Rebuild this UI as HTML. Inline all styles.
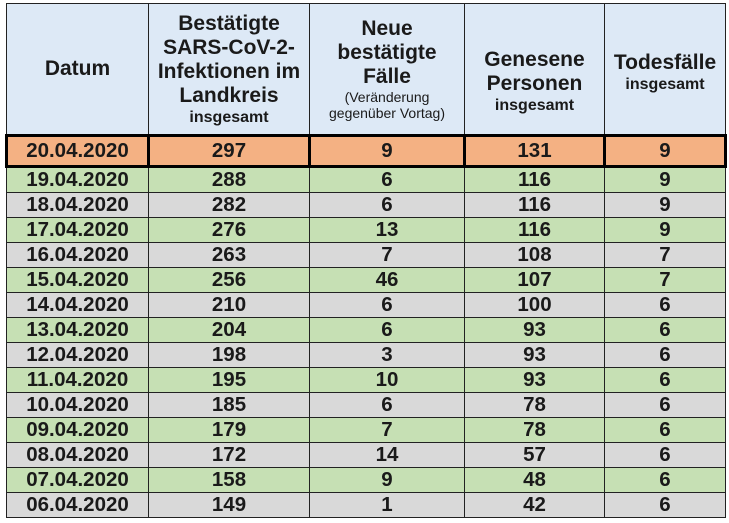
<!DOCTYPE html>
<html><head><meta charset="utf-8"><style>
html,body{margin:0;padding:0;background:#fff;width:729px;height:523px;overflow:hidden}
table{position:absolute;left:5px;top:3px;border-collapse:collapse;table-layout:fixed;font-family:"Liberation Sans",Arial,sans-serif;font-weight:bold;color:#1a1a1a}
td{border:1px solid #222;text-align:center;padding:0;font-size:20.5px;line-height:20px;overflow:hidden}
thead td{background:#dde9f6;height:130px;font-size:21px;line-height:24px;vertical-align:middle}
.s{font-size:16px;line-height:19px;display:block}
.n{font-size:14px;line-height:16px;font-weight:normal;display:block}
tr.h td{background:#f4b183;height:28px;border:3.5px solid #000}
tr.g td{background:#c6e0b4;height:24px}
tr.y td{background:#d9d9d9;height:24px}
</style></head><body>
<table>
<colgroup><col style="width:142px"><col style="width:161px"><col style="width:155px"><col style="width:140px"><col style="width:121px"></colgroup>
<thead><tr>
<td>Datum</td>
<td>Bestätigte<br>SARS-CoV-2-<br>Infektionen im<br>Landkreis<span class="s">insgesamt</span></td>
<td>Neue<br>bestätigte<br>Fälle<span class="n">(Veränderung<br>gegenüber Vortag)</span></td>
<td style="vertical-align:top;padding-top:44px;height:86px">Genesene<br>Personen<span class="s">insgesamt</span></td>
<td style="vertical-align:top;padding-top:47px;height:83px">Todesfälle<span class="s">insgesamt</span></td>
</tr></thead>
<tbody>
<tr class="h"><td>20.04.2020</td><td>297</td><td>9</td><td>131</td><td>9</td></tr>
<tr class="g"><td>19.04.2020</td><td>288</td><td>6</td><td>116</td><td>9</td></tr>
<tr class="y"><td>18.04.2020</td><td>282</td><td>6</td><td>116</td><td>9</td></tr>
<tr class="g"><td>17.04.2020</td><td>276</td><td>13</td><td>116</td><td>9</td></tr>
<tr class="y"><td>16.04.2020</td><td>263</td><td>7</td><td>108</td><td>7</td></tr>
<tr class="g"><td>15.04.2020</td><td>256</td><td>46</td><td>107</td><td>7</td></tr>
<tr class="y"><td>14.04.2020</td><td>210</td><td>6</td><td>100</td><td>6</td></tr>
<tr class="g"><td>13.04.2020</td><td>204</td><td>6</td><td>93</td><td>6</td></tr>
<tr class="y"><td>12.04.2020</td><td>198</td><td>3</td><td>93</td><td>6</td></tr>
<tr class="g"><td>11.04.2020</td><td>195</td><td>10</td><td>93</td><td>6</td></tr>
<tr class="y"><td>10.04.2020</td><td>185</td><td>6</td><td>78</td><td>6</td></tr>
<tr class="g"><td>09.04.2020</td><td>179</td><td>7</td><td>78</td><td>6</td></tr>
<tr class="y"><td>08.04.2020</td><td>172</td><td>14</td><td>57</td><td>6</td></tr>
<tr class="g"><td>07.04.2020</td><td>158</td><td>9</td><td>48</td><td>6</td></tr>
<tr class="y"><td>06.04.2020</td><td>149</td><td>1</td><td>42</td><td>6</td></tr>
</tbody></table>
</body></html>
